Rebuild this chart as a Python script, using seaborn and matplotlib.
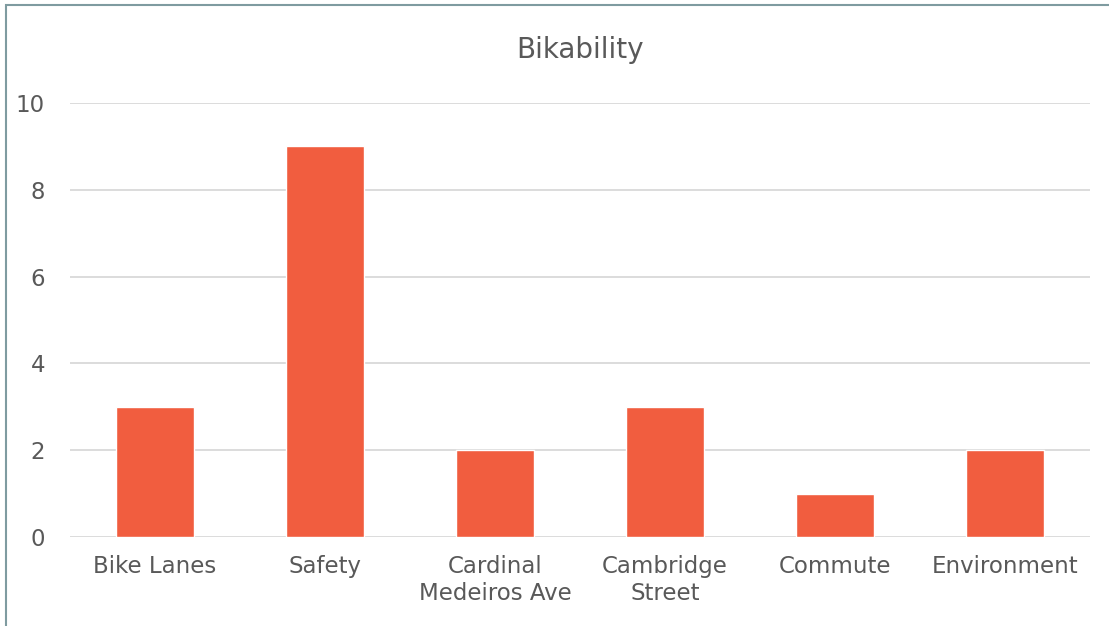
import matplotlib
matplotlib.use("Agg")
import matplotlib.pyplot as plt
import seaborn as sns
import pandas as pd
from matplotlib.patches import Rectangle

categories = ['Bike Lanes', 'Safety', 'Cardinal\nMedeiros Ave', 'Cambridge\nStreet', 'Commute', 'Environment']
values = [3, 9, 2, 3, 1, 2]
yticks = [0, 2, 4, 6, 8, 10]

df = pd.DataFrame({'category': categories, 'value': values})

sns.set_style('white')
plt.rcParams['font.family'] = ['DejaVu Sans']

fig = plt.figure(figsize=(11.09, 6.26), dpi=100)
ax = fig.add_axes([70/1109, 1-537/626, 1020/1109, 434/626])

sns.barplot(data=df, x='category', y='value', color='#F15D3F', saturation=1,
            width=0.46, ax=ax, zorder=3)

ax.set_ylim(0, 10)
ax.set_yticks(yticks)
ax.set_xlim(-0.5, len(categories) - 0.5)
ax.grid(axis='y', color='#d9d9d9', linewidth=1.3, zorder=0)
ax.set_axisbelow(True)
for s in ax.spines.values():
    s.set_visible(False)
ax.set_xlabel('')
ax.set_ylabel('')
ax.tick_params(axis='both', length=0, labelsize=16.5, labelcolor='#595959')
ax.tick_params(axis='y', pad=18)
ax.tick_params(axis='x', pad=13)

fig.text(580/1109, 1-50/626, 'Bikability', ha='center', va='center',
         fontsize=20, color='#595959')

# chart border (top and left visible)
fig.patches.append(Rectangle((6/1109, -0.1), 1.2, 1-5/626 + 0.1, transform=fig.transFigure,
                             fill=False, edgecolor='#7f9ba0', linewidth=1.5))

fig.savefig('out.png', dpi=100)
